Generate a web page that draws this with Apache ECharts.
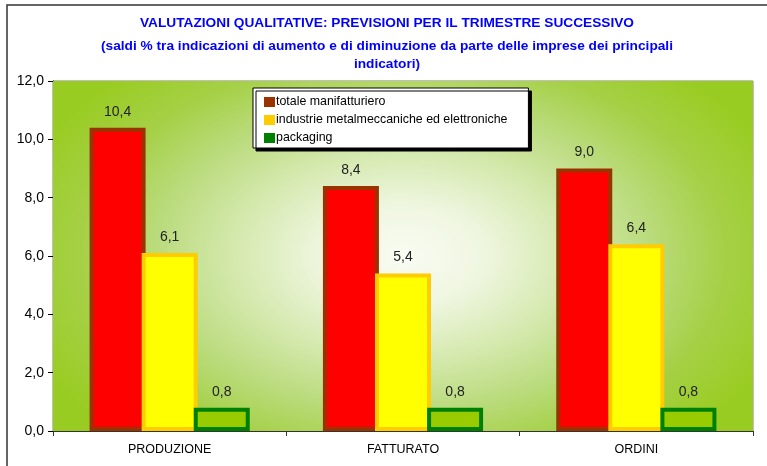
<!DOCTYPE html>
<html>
<head>
<meta charset="utf-8">
<script src="https://cdn.jsdelivr.net/npm/echarts@6/dist/echarts.min.js"></script>
<style>
  html, body { margin: 0; padding: 0; background: #ffffff; }
  #chart { width: 767px; height: 466px; }
</style>
</head>
<body>
<div id="chart"></div>
<script>
// Indicatori e saldi % (aumento - diminuzione) per il trimestre successivo
const categories = ['PRODUZIONE', 'FATTURATO', 'ORDINI'];
const seriesNames = [
  'totale manifatturiero',
  'industrie metalmeccaniche ed elettroniche',
  'packaging'
];
const totaleManifatturiero = [10.4, 8.4, 9.0];
const metalmeccaniche = [6.1, 5.4, 6.4];
const packaging = [0.8, 0.8, 0.8];
const yTicks = [0, 2, 4, 6, 8, 10, 12];

const FONT = 'Liberation Sans, Arial, sans-serif';
const fmt = v => Number(v).toFixed(1).replace('.', ',');

const fills = ['#ff0000', '#ffff00', '#99cc00'];
const borders = ['#993300', '#ffcc00', '#008000'];
const values = [totaleManifatturiero, metalmeccaniche, packaging];

const chart = echarts.init(document.getElementById('chart'), null, { renderer: 'canvas' });

const series = values.map((data, i) => ({
  name: seriesNames[i],
  type: 'bar',
  data: data,
  barWidth: 56,
  barGap: '-7%',
  z: 3,
  itemStyle: { color: fills[i], borderColor: borders[i], borderWidth: 4 },
  label: {
    show: true,
    position: 'top',
    distance: 9,
    color: '#222222',
    fontFamily: FONT,
    fontSize: 14,
    formatter: p => fmt(p.value)
  },
  emphasis: { disabled: true }
}));

// plot area geometry (grid)
const G = { left: 53, top: 81, width: 700, height: 350 };

chart.setOption({
  animation: false,
  backgroundColor: '#ffffff',
  title: [
    {
      text: 'VALUTAZIONI QUALITATIVE: PREVISIONI PER IL TRIMESTRE SUCCESSIVO',
      left: 382, top: 11, textAlign: 'center',
      textStyle: { fontFamily: FONT, fontWeight: 'bold', fontSize: 13.7, color: '#0000ff' }
    },
    {
      text: '(saldi % tra indicazioni di aumento e di diminuzione da parte delle imprese dei principali\nindicatori)',
      left: 382, top: 32, textAlign: 'center',
      textStyle: { fontFamily: FONT, fontWeight: 'bold', fontSize: 13.7, color: '#0000ff', lineHeight: 18 }
    }
  ],
  legend: {
    orient: 'vertical',
    left: 253, top: 88,
    padding: [8, 21, 4, 11],
    itemGap: 6,
    itemWidth: 11, itemHeight: 10,
    icon: 'rect',
    backgroundColor: '#ffffff',
    borderColor: '#000000', borderWidth: 1,
    shadowColor: '#000000', shadowBlur: 0, shadowOffsetX: 3, shadowOffsetY: 3,
    itemStyle: { borderWidth: 0 },
    textStyle: { fontFamily: FONT, fontSize: 12.4, color: '#000000', padding: [0, 0, 0, -4] },
    data: seriesNames.map((n, i) => ({ name: n, itemStyle: { color: borders[i], borderWidth: 0 } }))
  },
  grid: {
    left: G.left, right: 767 - G.left - G.width, top: G.top, bottom: 466 - G.top - G.height,
    show: true,
    borderColor: '#808080', borderWidth: 1,
    backgroundColor: '#99cc22'
  },
  xAxis: {
    type: 'category',
    data: categories,
    axisLine: { lineStyle: { color: '#333333', width: 1 } },
    axisTick: { show: true, length: 5, lineStyle: { color: '#333333' } },
    axisLabel: { color: '#000000', fontFamily: FONT, fontSize: 12.5, margin: 12 }
  },
  yAxis: {
    type: 'value',
    min: yTicks[0], max: yTicks[yTicks.length - 1], interval: 2,
    axisLine: { show: true, lineStyle: { color: '#000000', width: 1 } },
    axisTick: { show: true, length: 5, lineStyle: { color: '#000000' } },
    splitLine: { show: false },
    axisLabel: { color: '#000000', fontFamily: FONT, fontSize: 14, margin: 9, formatter: v => fmt(v) }
  },
  graphic: [
    {
      // light centre of the plot fill, stretched horizontally
      type: 'rect',
      x: G.left + G.width / 2, y: G.top + G.height / 2,
      scaleX: G.width / (G.height * 1.25),
      shape: { x: -G.height * 1.25 / 2, y: -G.height / 2, width: G.height * 1.25, height: G.height },
      style: {
        fill: {
          type: 'radial', x: 0.5, y: 0.5, r: 0.72,
          colorStops: [
            { offset: 0, color: '#f9fcf3' },
            { offset: 0.2, color: '#eff6e0' },
            { offset: 0.4, color: '#d7eab2' },
            { offset: 0.6, color: '#bcdc80' },
            { offset: 0.8, color: '#a5d046' },
            { offset: 1, color: '#99cc22' }
          ]
        }
      },
      silent: true, z: 1
    },
    {
      type: 'rect',
      shape: { x: 7, y: 5, width: 770, height: 470 },
      style: { fill: 'none', stroke: '#333333', lineWidth: 1.5 },
      silent: true, z: 100
    }
  ],
  series: series
});
</script>
</body>
</html>
